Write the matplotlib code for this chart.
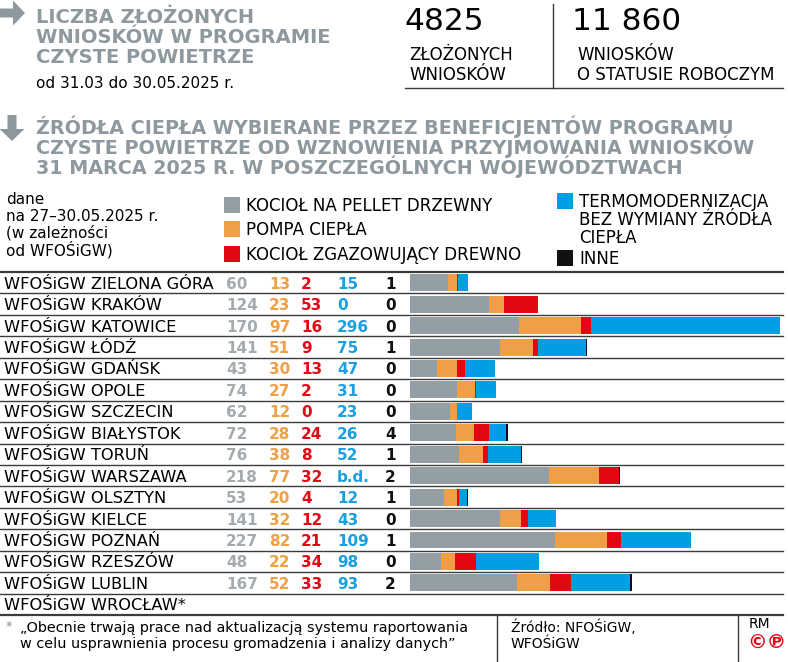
import matplotlib
matplotlib.use('Agg')
import matplotlib.pyplot as plt
from matplotlib.patches import Rectangle, FancyArrow
import numpy as np

plt.rcParams['font.family'] = ['DejaVu Sans']

# dane z grafiki
regiony = ['ZIELONA GÓRA', 'KRAKÓW', 'KATOWICE', 'ŁÓDŹ', 'GDAŃSK', 'OPOLE',
           'SZCZECIN', 'BIAŁYSTOK', 'TORUŃ', 'WARSZAWA', 'OLSZTYN', 'KIELCE',
           'POZNAŃ', 'RZESZÓW', 'LUBLIN', 'WROCŁAW*']
nan = np.nan
pellet = [60, 124, 170, 141, 43, 74, 62, 72, 76, 218, 53, 141, 227, 48, 167, nan]
pompa = [13, 23, 97, 51, 30, 27, 12, 28, 38, 77, 20, 32, 82, 22, 52, nan]
zgazowujacy = [2, 53, 16, 9, 13, 2, 0, 24, 8, 32, 4, 12, 21, 34, 33, nan]
termo = [15, 0, 296, 75, 47, 31, 23, 26, 52, nan, 12, 43, 109, 98, 93, nan]
inne = [1, 0, 0, 1, 0, 0, 0, 4, 1, 2, 1, 0, 1, 0, 2, nan]

serie = [pellet, pompa, zgazowujacy, termo, inne]
kolory = ['#939ea5', '#ef9f45', '#e30613', '#009fe3', '#111111']
kolory_tekstu = ['#a3abb0', '#ef9f45', '#e30613', '#1a9fe0', '#111111']
legenda = [['KOCIOŁ NA PELLET DRZEWNY'], ['POMPA CIEPŁA'], ['KOCIOŁ ZGAZOWUJĄCY DREWNO'],
           ['TERMOMODERNIZACJA', 'BEZ WYMIANY ŹRÓDŁA', 'CIEPŁA'], ['INNE']]

SZARY = '#8e989f'
LINIA = '#3c3c3c'
W, H = 788, 662

fig = plt.figure(figsize=(W / 100, H / 100), dpi=100)

# warstwa w pikselach na teksty i linie
ax0 = fig.add_axes([0, 0, 1, 1])
ax0.set_xlim(0, W)
ax0.set_ylim(H, 0)
ax0.axis('off')

# --- naglowek ---
ax0.add_patch(FancyArrow(0, 13, 25, 0, width=9, head_width=25, head_length=12,
                         length_includes_head=True, color=SZARY, lw=0))
for i, t in enumerate(['LICZBA ZŁOŻONYCH', 'WNIOSKÓW W PROGRAMIE', 'CZYSTE POWIETRZE']):
    ax0.text(36, 23 + 20 * i, t, fontsize=14, fontweight='bold', color=SZARY, va='baseline')
ax0.text(36, 88, 'od 31.03 do 30.05.2025 r.', fontsize=11, va='baseline')

ax0.text(404, 30, '4825', fontsize=22.5, va='baseline')
ax0.text(409, 60, 'ZŁOŻONYCH', fontsize=12, va='baseline')
ax0.text(409, 80, 'WNIOSKÓW', fontsize=12, va='baseline')
ax0.text(572, 30, '11 860', fontsize=22.5, va='baseline')
ax0.text(577, 60, 'WNIOSKÓW', fontsize=12, va='baseline')
ax0.text(577, 80, 'O STATUSIE ROBOCZYM', fontsize=12, va='baseline')
ax0.plot([553, 553], [4, 88], color=LINIA, lw=1)
ax0.plot([405, 783], [88, 88], color=LINIA, lw=1)

ax0.add_patch(FancyArrow(12, 115, 0, 26, width=9, head_width=25, head_length=12,
                         length_includes_head=True, color=SZARY, lw=0))
tytul2 = ['ŹRÓDŁA CIEPŁA WYBIERANE PRZEZ BENEFICJENTÓW PROGRAMU',
          'CZYSTE POWIETRZE OD WZNOWIENIA PRZYJMOWANIA WNIOSKÓW',
          '31 MARCA 2025 R. W POSZCZEGÓLNYCH WOJEWÓDZTWACH']
# jeden tekst wielowierszowy (baseline = ostatni wiersz)
ax0.text(36, 174, '\n'.join(tytul2), fontsize=13.8, fontweight='bold', color=SZARY,
         va='baseline', linespacing=0.86)

# --- opis i legenda ---
for i, t in enumerate(['dane', 'na 27–30.05.2025 r.', '(w zależności', 'od WFOŚiGW)']):
    ax0.text(6, 204 + 17 * i, t, fontsize=11, va='baseline')

poz_leg = [(224, 197), (224, 221), (224, 246), (557, 193), (557, 250)]
for (lx, ly), kol, linie in zip(poz_leg, kolory, legenda):
    ax0.add_patch(Rectangle((lx, ly), 16, 16, color=kol, lw=0))
    for j, t in enumerate(linie):
        ax0.text(lx + 22, ly + 14 + 18 * j, t, fontsize=12, va='baseline')

# --- tabela ---
top, row_h = 272, 21.44
n = len(regiony)
y = np.arange(n)
for k in range(n + 1):
    ax0.plot([0, 783], [top + k * row_h] * 2, color=LINIA, lw=1.6 if k in (0, n) else 1)

kol_x = [226, 269, 301, 337, 385]
for i, nazwa in enumerate(regiony):
    yb = top + (i + 0.5) * row_h + 6
    ax0.text(4, yb, 'WFOŚiGW ' + nazwa, fontsize=11.7, va='baseline')
    wiersz = [s[i] for s in serie]
    if all(np.isnan(wiersz)):
        continue
    for x, v, kol in zip(kol_x, wiersz, kolory_tekstu):
        txt = 'b.d.' if np.isnan(v) else str(int(v))
        ax0.text(x, yb, txt, fontsize=11, fontweight='bold', color=kol, va='baseline')

# slupki skumulowane
dane = np.nan_to_num(np.array(serie, dtype=float))
sumy = dane.sum(axis=0)
x0, bar_w = 410, 370
ax = fig.add_axes([x0 / W, 1 - (top + n * row_h) / H, bar_w / W, n * row_h / H])
ax.set_xlim(0, sumy.max())
ax.set_ylim(n - 0.5, -0.5)
ax.axis('off')
left = np.zeros(n)
for wart, kol in zip(dane, kolory):
    ax.barh(y, wart, left=left, height=0.79, color=kol, lw=0)
    left += wart

# --- stopka ---
ax0.plot([497, 497], [615, H], color=LINIA, lw=1)
ax0.plot([738, 738], [615, H], color=LINIA, lw=1)
ax0.text(6, 630, '*', fontsize=9, color='#888888', va='baseline')
ax0.text(20, 632, '„Obecnie trwają prace nad aktualizacją systemu raportowania', fontsize=10.4, va='baseline')
ax0.text(20, 648, 'w celu usprawnienia procesu gromadzenia i analizy danych”', fontsize=10.4, va='baseline')
ax0.text(511, 632, 'Źródło: NFOŚiGW,', fontsize=10, va='baseline')
ax0.text(511, 648, 'WFOŚiGW', fontsize=10, va='baseline')
ax0.text(749, 628, 'RM', fontsize=10, va='baseline')
ax0.text(747, 648, '©℗', fontsize=14, color='#e30613', fontweight='bold', va='baseline')

fig.savefig('out.png', dpi=100)
plt.close()
